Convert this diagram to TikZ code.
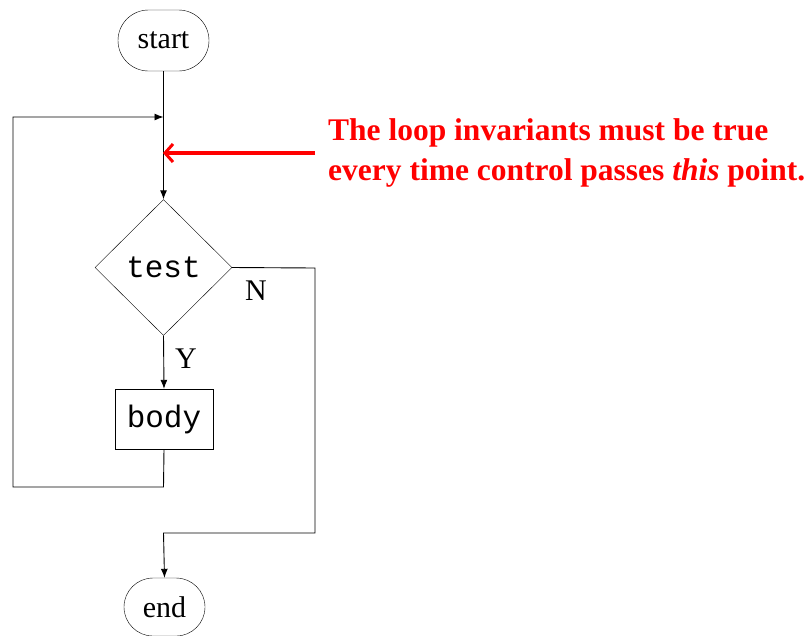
\documentclass[tikz,border=0pt]{standalone}
\usepackage{fontspec}
\setmainfont{Liberation Serif}
\setmonofont{Liberation Mono}
\usetikzlibrary{shapes.geometric,shapes.misc,arrows.meta}
\begin{document}
\begin{tikzpicture}[x=1pt,y=-1pt,
  every node/.style={font=\fontsize{30}{40}\selectfont},
  terminal/.style={draw,rounded rectangle,inner sep=0pt},
  decision/.style={draw,diamond,aspect=1,inner sep=0pt,minimum width=137pt,minimum height=136pt,font=\ttfamily\fontsize{31}{34}\selectfont},
  process/.style={draw,rectangle,inner sep=0pt,minimum width=98pt,minimum height=60pt,font=\ttfamily\fontsize{31}{34}\selectfont},
  arr/.style={line width=0.9pt,-{Latex[length=9pt,width=7pt]}},
  note/.style={text=red,font=\bfseries\fontsize{31.5}{40}\selectfont,align=left,inner sep=0pt},
  redarr/.style={red,line width=3.5pt,-{Straight Barb[length=8pt,width=18pt,line width=3pt]}}]
\useasboundingbox (0,0) rectangle (810,635);
\node[terminal,minimum width=91pt,minimum height=61pt] (start) at (163.5,40.5) {start};
\node[decision] (test) at (163.5,267.5) {test};
\node[process] (body) at (164,419) {body};
\node[terminal,minimum width=81pt,minimum height=58pt] (stop) at (164.5,607) {end};
\coordinate (join) at (163.5,117);
\coordinate (loopbl) at (13,487);
\coordinate (looptl) at (13,117);
\coordinate (bodyb) at (163.5,487);
\coordinate (nr) at (315,268);
\coordinate (nb) at (315,533);
\coordinate (nl) at (163.5,533);
\coordinate (point) at (163,153);
\coordinate (notestart) at (315,153);
\draw[arr] (start.south) -- (test.north);
\draw[arr] (body.south) -- (bodyb) -- (loopbl) -- (looptl) -- (join);
\draw[arr] (test.south) -- (body.north);
\draw[arr] (test.east) -- (nr) -- (nb) -- (nl) -- (stop.north);
\node[anchor=base] (N) at (256,300) {N};
\node[anchor=base] (Y) at (186,368) {Y};
\draw[redarr] (notestart) -- (point);
\node[note,anchor=north west] (note) at (328,118) {The loop invariants must be true\\every time control passes \textit{this} point.};
\end{tikzpicture}
\end{document}
